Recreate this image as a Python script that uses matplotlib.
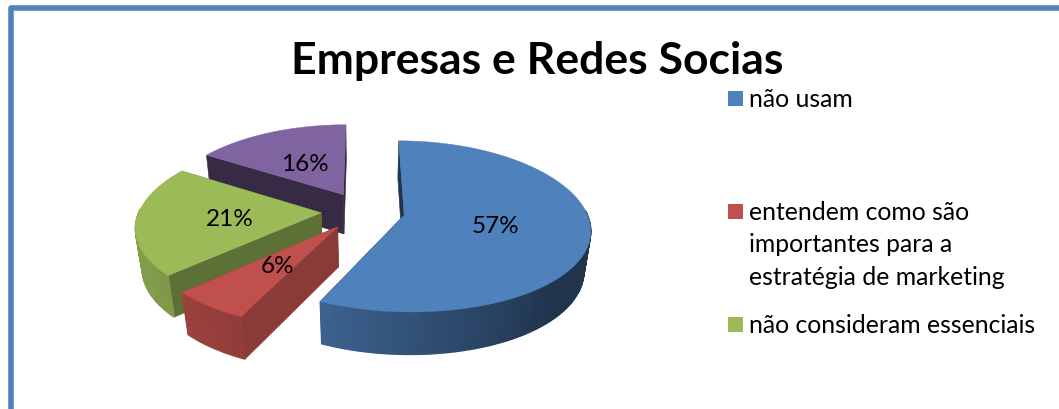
import numpy as np
import matplotlib
matplotlib.use("Agg")
import matplotlib.pyplot as plt
from matplotlib.patches import Rectangle

plt.rcParams['font.family'] = ['Lato', 'DejaVu Sans']

title = 'Empresas e Redes Socias'
values = [57, 6, 21, 16]
colors = ['#4f81bd', '#c0504d', '#9bbb59', '#8064a2']
legend_labels = ['não usam', 'entendem como são\nimportantes para a\nestratégia de marketing', 'não consideram essenciais']

# projection of the tilted pie onto the canvas (canvas units are pixels)
cx, cy = 363, 212
rx, ry = 182, 83
height = 41
tilt_x, tilt_y = 0.15, 0.13
sink = 0.03
explode = 0.23
face_shade = [0.40, 0.72, 0.60, 0.42]  # cut faces, one per slice


def project(x, y, h=0.0):
    wx = 1 + tilt_x * y + sink * h
    wy = 1 + tilt_y * y + sink * h
    return cx + rx * x / wx, cy + (-ry * y + height * h) / wy


def darker(color, f):
    return tuple(c * f for c in matplotlib.colors.to_rgb(color))


def arc_shade(a):
    return np.interp(a, [90, 135, 205, 240, 300], [0.40, 0.40, 0.76, 0.84, 0.86])


fig = plt.figure(figsize=(10.59, 4.10), dpi=100)
ax = fig.add_axes([0, 0, 1, 1])
ax.set_xlim(0, 1059)
ax.set_ylim(410, 0)
ax.axis('off')

# box round the chart, it runs off the right and bottom
ax.plot([11.3, 11.3, 1059], [410, 9.3, 9.3], color='#4f81bd', lw=4.0, solid_joinstyle='round', solid_capstyle='butt')

edges = np.cumsum([0] + values) * 3.6
slices = []
for i, v in enumerate(values):
    a0, a1 = edges[i], edges[i + 1]
    mid = np.radians((a0 + a1) / 2)
    ox, oy = explode * np.sin(mid), explode * np.cos(mid)
    slices.append((i, a0, a1, ox, oy, mid))


def cut_face(a, ox, oy, color):
    t = np.radians(a)
    px = [ox, ox + np.sin(t), ox + np.sin(t), ox]
    py = [oy, oy + np.cos(t), oy + np.cos(t), oy]
    ph = [0, 0, 1, 1]
    X, Y = project(np.array(px), np.array(py), np.array(ph))
    ax.fill(X, Y, color=color, lw=0.4)


def wall_strip(a, b, ox, oy, color):
    ta, tb = np.radians(a), np.radians(b)
    px = ox + np.sin([ta, tb, tb, ta])
    py = oy + np.cos([ta, tb, tb, ta])
    X, Y = project(px, py, np.array([0, 0, 1, 1]))
    ax.fill(X, Y, color=darker(color, arc_shade((a + b) / 2)), lw=1.0)


# back to front: purple, green, red, blue
for i, a0, a1, ox, oy, mid in [slices[3], slices[2], slices[1], slices[0]]:
    col = colors[i]
    ang = np.linspace(a0, a1, int(a1 - a0) + 2)

    # the far cut goes first so the near one hides it
    cuts = sorted([a0, a1], key=lambda a: np.cos(np.radians(a)), reverse=True)
    for a in cuts:
        cut_face(a, ox, oy, darker(col, face_shade[i]))

    # only the part of the outer wall that faces the viewer
    for a, b in zip(ang[:-1], ang[1:]):
        if np.cos(np.radians((a + b) / 2)) <= 0.05:
            wall_strip(a, b, ox, oy, col)

    # top
    t = np.radians(ang)
    X, Y = project(np.r_[ox, ox + np.sin(t)], np.r_[oy, oy + np.cos(t)])
    ax.fill(X, Y, color=col, lw=0.3)

# percentages halfway along each slice
for i, a0, a1, ox, oy, mid in slices:
    X, Y = project(ox + 0.5 * np.sin(mid), oy + 0.5 * np.cos(mid))
    ax.text(X, Y + 1.5, f'{values[i]}%', ha='center', va='center', fontsize=17.5, color='black', zorder=5)

ax.text(537.5, 61, title, ha='center', va='center', fontsize=32, fontweight='bold', color='black')

# legend, the purple slice has no entry
legend_y = [99.5, 212.5, 325.5]
for col, lab, y in zip(colors, legend_labels, legend_y):
    ax.add_patch(Rectangle((728, y - 7.5), 15, 15, color=col, lw=0))
    for k, line in enumerate(lab.split('\n')):
        ax.text(749, y + 7.5 + 32.5 * k, line, ha='left', va='baseline', fontsize=17.8, color='black')

fig.savefig('out.png', dpi=100)
